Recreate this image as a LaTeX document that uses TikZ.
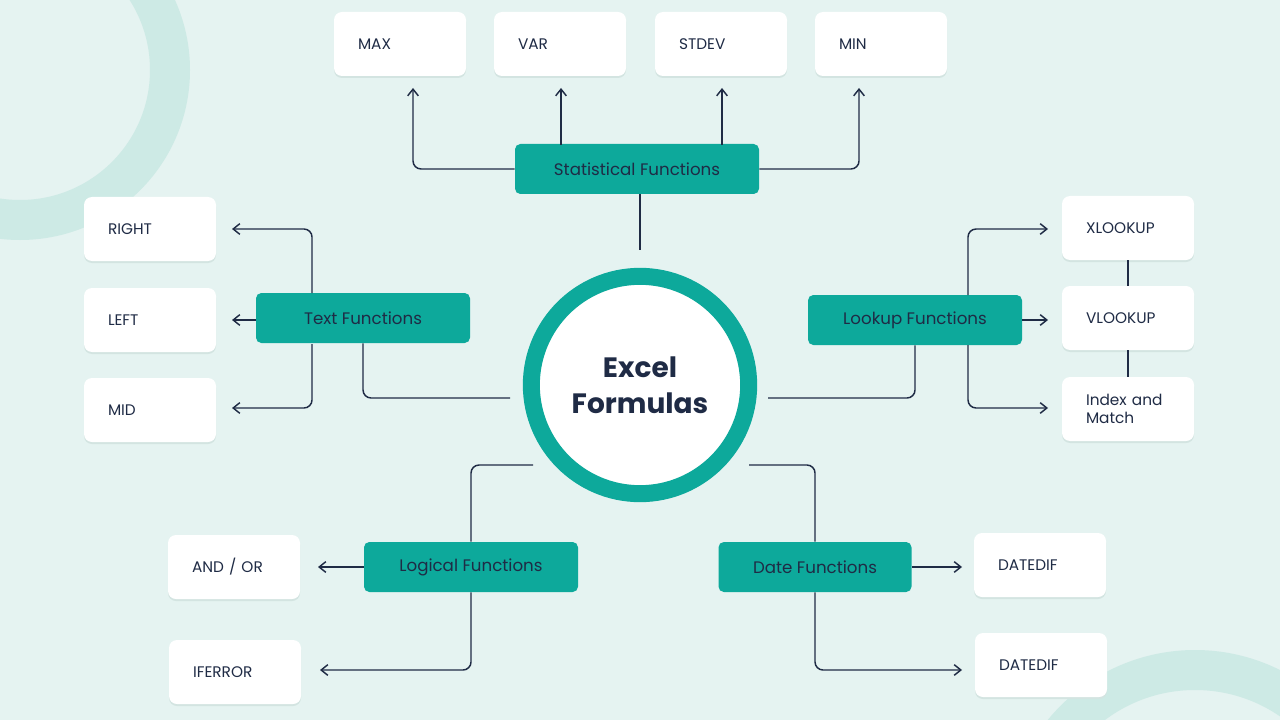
\documentclass[tikz,border=0pt]{standalone}
\usepackage{fontspec}
\setmainfont{Poppins}
\usetikzlibrary{arrows.meta}
\definecolor{bg}{HTML}{E5F3F1}
\definecolor{deco}{HTML}{CDEAE5}
\definecolor{teal}{HTML}{0DA99B}
\definecolor{ink}{HTML}{1F2B45}
\definecolor{shad}{HTML}{D3E4E1}
\tikzset{
  leaf/.style={fill=white,rounded corners=6pt,minimum width=99pt,minimum height=48pt,text width=63pt,inner xsep=18pt,align=left,font=\fontsize{11.5}{14}\selectfont,text=ink,
    preaction={fill=shad,transform canvas={yshift=-1.5pt}}},
  cat/.style={fill=teal,rounded corners=4pt,minimum height=37.5pt,font=\fontsize{12.5}{15}\selectfont,text=ink},
  con/.style={draw=ink,line width=1.1pt,rounded corners=6pt},
  arr/.style={con,-{Straight Barb[length=5pt,width=8pt]}}
}
\begin{document}
\begin{tikzpicture}[x=0.75pt,y=-0.75pt]
\useasboundingbox (0,0) rectangle (1280,720);
\fill[bg] (0,0) rectangle (1280,720);
\begin{scope}
\clip (0,0) rectangle (1280,720);
\draw[deco,line width=30pt] (20,70) circle (150);
\draw[deco,line width=30pt] (1195,840) circle (170);
\end{scope}
% center
\node[circle,fill=white,draw=teal,line width=12.75pt,minimum size=163pt,align=center,font=\fontsize{21}{27}\selectfont\bfseries,text=ink] (c) at (640,385) {Excel\\Formulas};
% categories
\node[cat,minimum width=183pt] (st) at (637,169) {Statistical Functions};
\node[cat,minimum width=160.5pt] (tx) at (363,318) {Text Functions};
\node[cat,minimum width=160.5pt] (lk) at (915,320) {Lookup Functions};
\node[cat,minimum width=160.5pt] (lg) at (471,567) {Logical Functions};
\node[cat,minimum width=144.75pt] (dt) at (815,567) {Date Functions};
% leaves
\node[leaf] (max) at (400,44) {MAX};
\node[leaf] (var) at (560,44) {VAR};
\node[leaf] (sd) at (721,44) {STDEV};
\node[leaf] (min) at (881,44) {MIN};
\node[leaf] (rt) at (150,229) {RIGHT};
\node[leaf] (lf) at (150,320) {LEFT};
\node[leaf] (md) at (150,410) {MID};
\node[leaf] (xl) at (1128,228) {XLOOKUP};
\node[leaf] (vl) at (1128,318) {VLOOKUP};
\node[leaf] (im) at (1128,409) {Index and\\Match};
\node[leaf] (ao) at (234,567) {AND / OR};
\node[leaf] (ie) at (235,672) {IFERROR};
\node[leaf] (d1) at (1040,565) {DATEDIF};
\node[leaf] (d2) at (1041,665) {DATEDIF};
% coordinates
\coordinate (tA) at (640,250);
\coordinate (tB) at (510,398);
\coordinate (lB) at (768,398);
\coordinate (gB) at (533,465);
\coordinate (dB) at (749,465);
% statistical
\draw[arr] (st.west) -| (413,88);
\draw[arr] (561,145) -- (561,88);
\draw[arr] (722,145) -- (722,88);
\draw[arr] (st.east) -| (859,88);
\draw[con] (640,194) -- (tA);
% text
\draw[arr] (312,293) |- (232,229);
\draw[arr] (312,344) |- (232,408);
\draw[arr] (256,320) -- (232,320);
\draw[con] (tx.south) |- (tB);
% lookup
\draw[arr] (968,295) |- (1048,229);
\draw[arr] (968,345) |- (1048,408);
\draw[arr] (lk.east) -- (1048,320);
\draw[con] (xl.south) -- (vl.north);
\draw[con] (vl.south) -- (im.north);
\draw[con] (lk.south) |- (lB);
% logical
\draw[arr] (lg.west) -- (318,567);
\draw[arr] (lg.south) |- (320,670);
\draw[con] (lg.north) |- (gB);
% date
\draw[arr] (dt.east) -- (962,567);
\draw[arr] (dt.south) |- (962,670);
\draw[con] (dt.north) |- (dB);
\end{tikzpicture}
\end{document}
